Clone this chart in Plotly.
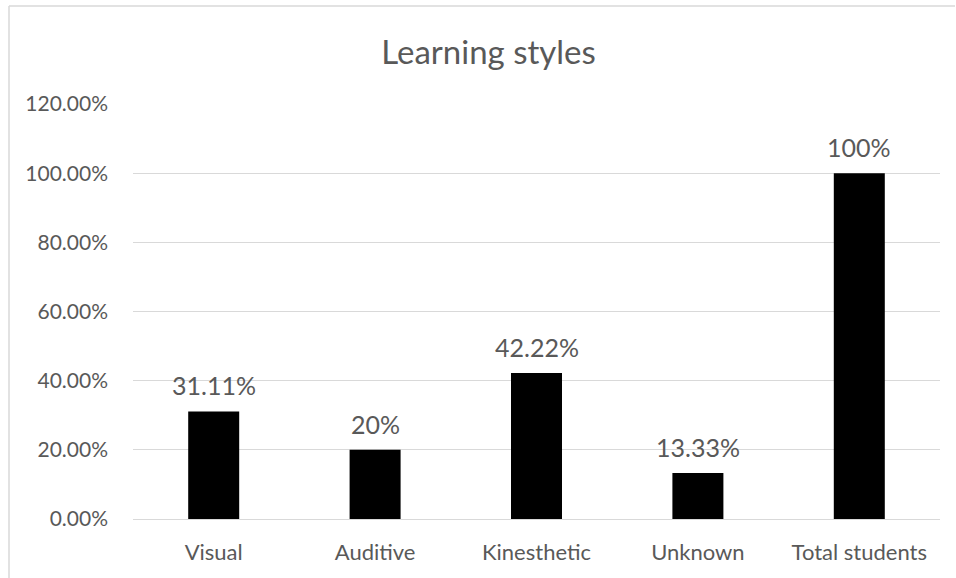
import plotly.graph_objects as go

categories = ["Visual", "Auditive", "Kinesthetic", "Unknown", "Total students"]
values = [0.3111, 0.20, 0.4222, 0.1333, 1.00]
value_labels = ["31.11%", "20%", "42.22%", "13.33%", "100%"]
y_ticks = [0, 0.2, 0.4, 0.6, 0.8, 1.0, 1.2]
y_tick_labels = ["0.00%", "20.00%", "40.00%", "60.00%", "80.00%", "100.00%", "120.00%"]

W, H = 956, 578
ML, MR, MT, MB = 133, 16, 104, 59
PW, PH = W - ML - MR, H - MT - MB

def px_x(p):
    return (p - ML) / PW

def px_y(p):
    return (H - MB - p) / PH

FONT = "Lato"
TXT = "#595959"

fig = go.Figure(go.Bar(
    x=categories, y=values, marker=dict(color="black", line=dict(width=0)),
    hoverinfo="skip",
))

for c, v, t in zip(categories, values, value_labels):
    fig.add_annotation(x=c, y=v, text=t, showarrow=False, yanchor="bottom",
                       yshift=9, font=dict(family=FONT, size=25, color=TXT))

fig.update_layout(
    width=W, height=H,
    margin=dict(l=ML, r=MR, t=MT, b=MB),
    paper_bgcolor="white", plot_bgcolor="white",
    bargap=0.684,
    showlegend=False,
    title=dict(text="Learning styles", x=0.511, xref="container", xanchor="center",
               y=1 - 52 / H, yref="container", yanchor="middle",
               font=dict(family=FONT, size=33, color=TXT)),
    xaxis=dict(showgrid=False, showline=True, linecolor="#d9d9d9", linewidth=1,
               ticks="", tickfont=dict(family=FONT, size=22, color=TXT),
               ticklabelstandoff=14),
    yaxis=dict(range=[0, 1.2], tickvals=y_ticks, ticktext=y_tick_labels,
               showgrid=True, gridcolor="#d9d9d9", gridwidth=1, zeroline=False,
               showline=False, ticks="", tickfont=dict(family=FONT, size=21, color=TXT),
               ticklabelstandoff=24),
    shapes=[
        dict(type="line", xref="paper", yref="paper", x0=px_x(9), x1=px_x(9),
             y0=px_y(6), y1=px_y(H + 5), line=dict(color="#d9d9d9", width=1.5)),
        dict(type="line", xref="paper", yref="paper", x0=px_x(9), x1=px_x(955),
             y0=px_y(6), y1=px_y(6), line=dict(color="#d9d9d9", width=1.5)),
    ],
)

fig.write_html("out.html")
